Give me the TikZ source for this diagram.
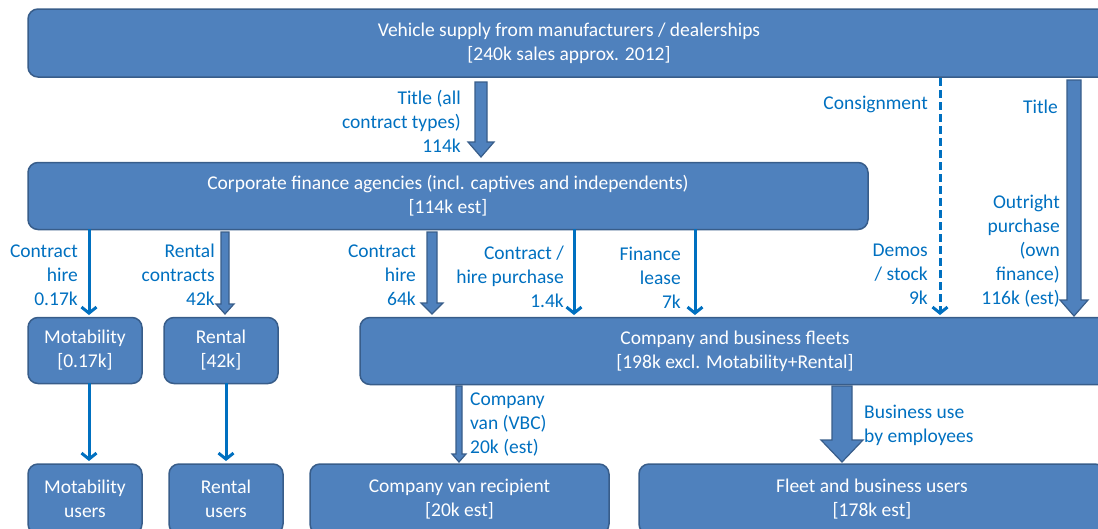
\documentclass[tikz,border=0pt]{standalone}
\usepackage{fontspec}
\setmainfont{Carlito}
\usetikzlibrary{calc,arrows.meta}
\definecolor{boxblue}{HTML}{4F81BD}
\definecolor{boxedge}{HTML}{385D8A}
\definecolor{lblue}{HTML}{0070C0}
\tikzset{
  box/.style={draw=boxedge, fill=boxblue, line width=1.5pt, rounded corners=10pt,
    text=white, align=center, inner sep=0pt, font=\fontsize{19.5}{24}\selectfont},
  lbl/.style={text=lblue, inner sep=0pt, font=\fontsize{19.5}{24}\selectfont},
  larrow/.style={draw=lblue, line width=3pt, -{Straight Barb[length=6pt,width=15pt]}},
  barrowstyle/.style={fill=boxblue, draw=boxedge, line width=1.2pt, line join=miter},
}
% block arrow: start, end, half shaft, half head, head length
\newcommand{\blockarr}[5]{%
  \draw[barrowstyle] ($(#1)+(-#3,0)$) -- ($(#2)+(-#3,-#5)$) -- ($(#2)+(-#4,-#5)$) -- (#2)
    -- ($(#2)+(#4,-#5)$) -- ($(#2)+(#3,-#5)$) -- ($(#1)+(#3,0)$) -- cycle;}
\begin{document}
\begin{tikzpicture}[x=1pt,y=-1pt]
\useasboundingbox (0,0) rectangle (1098,528);
\clip (0,0) rectangle (1098,528);
% boxes
\node[box, minimum width=1082pt, minimum height=68pt] (supply) at (569,43)
  {Vehicle supply from manufacturers / dealerships\\ {[240k sales approx. 2012]}};
\node[box, minimum width=840pt, minimum height=67pt] (corp) at (448,196)
  {Corporate finance agencies (incl. captives and independents)\\ {[114k est]}};
\node[box, minimum width=114pt, minimum height=66pt] (moto) at (85,350.5)
  {Motability\\ {[0.17k]}};
\node[box, minimum width=114pt, minimum height=66pt] (rental) at (221,350.5)
  {Rental\\ {[42k]}};
\node[box, minimum width=750pt, minimum height=67pt] (fleets) at (735,351)
  {Company and business fleets\\ {[198k excl. Motability+Rental]}};
\node[box, minimum width=114pt, minimum height=70pt] (motou) at (85,499)
  {Motability\\ users};
\node[box, minimum width=114pt, minimum height=70pt] (rentu) at (226,499)
  {Rental\\ users};
\node[box, minimum width=299pt, minimum height=70pt] (van) at (459.5,499)
  {Company van recipient\\ {[20k est]}};
\node[box, minimum width=466pt, minimum height=70pt] (fleetu) at (872,499)
  {Fleet and business users\\ {[178k est]}};
% arrow end points
\coordinate (t1s) at (481,82);   \coordinate (t1e) at (481,157);
\coordinate (c1s) at (940,78);   \coordinate (c1e) at (940,315);
\coordinate (t2s) at (1074,80);  \coordinate (t2e) at (1074,316);
\coordinate (h1s) at (89,229);   \coordinate (h1e) at (89,315);
\coordinate (r1s) at (225,232);  \coordinate (r1e) at (225,314);
\coordinate (h2s) at (432,232);  \coordinate (h2e) at (432,314);
\coordinate (p1s) at (574,229);  \coordinate (p1e) at (574,315);
\coordinate (f1s) at (695,229);  \coordinate (f1e) at (695,315);
\coordinate (m1s) at (89,383);   \coordinate (m1e) at (89,461);
\coordinate (r2s) at (226,383);  \coordinate (r2e) at (226,461);
\coordinate (v1s) at (459,386);  \coordinate (v1e) at (459,462);
\coordinate (b1s) at (842,386);  \coordinate (b1e) at (842,462);
% block arrows
\blockarr{t1s}{t1e}{6}{13}{15}
\blockarr{t2s}{t2e}{7}{14}{16}
\blockarr{r1s}{r1e}{4}{9}{10}
\blockarr{h2s}{h2e}{5}{11}{11}
\blockarr{v1s}{v1e}{3}{7}{8}
\blockarr{b1s}{b1e}{10}{21}{22}
% line arrows
\draw[larrow, dash pattern=on 8pt off 4pt] (c1s) -- (c1e);
\draw[larrow] (h1s) -- (h1e);
\draw[larrow] (p1s) -- (p1e);
\draw[larrow] (f1s) -- (f1e);
\draw[larrow] (m1s) -- (m1e);
\draw[larrow] (r2s) -- (r2e);
% labels
\node[lbl, anchor=east, align=right] (lt1) at (461,121) {Title (all\\ contract types)\\ 114k};
\node[lbl, anchor=east, align=right] (lc1) at (928,104) {Consignment};
\node[lbl, anchor=east, align=right] (lt2) at (1058,107) {Title};
\node[lbl, anchor=east, align=right] (lh1) at (78,275) {Contract\\ hire\\ 0.17k};
\node[lbl, anchor=east, align=right] (lr1) at (215,275) {Rental\\ contracts\\ 42k};
\node[lbl, anchor=east, align=right] (lh2) at (416,275) {Contract\\ hire\\ 64k};
\node[lbl, anchor=east, align=right] (lp1) at (564,277) {Contract /\\ hire purchase\\ 1.4k};
\node[lbl, anchor=east, align=right] (lf1) at (681,278) {Finance\\ lease\\ 7k};
\node[lbl, anchor=east, align=right] (ld1) at (928,274) {Demos\\ / stock\\ 9k};
\node[lbl, anchor=east, align=right] (lo1) at (1060,251) {Outright\\ purchase\\ (own\\ finance)\\ 116k (est)};
\node[lbl, anchor=west, align=left] (lv1) at (470,425) {Company\\ van (VBC)\\ 20k (est)};
\node[lbl, anchor=west, align=left] (lb1) at (864,425) {Business use\\ by employees};
\end{tikzpicture}
\end{document}
